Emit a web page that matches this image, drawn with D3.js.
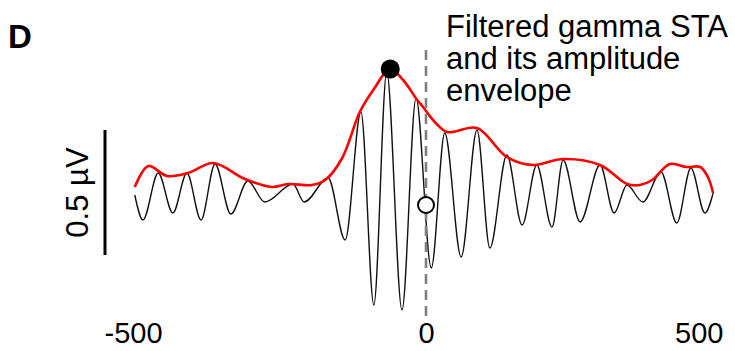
<!DOCTYPE html>
<html>
<head>
<meta charset="utf-8">
<script src="https://cdn.jsdelivr.net/npm/d3@7"></script>
<style>
  body { margin: 0; background: #fff; }
  svg { display: block; font-family: "Liberation Sans", Arial, sans-serif; }
</style>
</head>
<body>
<div id="chart"></div>
<script>
// time (ms) and amplitude (uV)
var staTime = [-497, -483, -457, -432, -408, -384, -360, -333, -304, -275, -227, -208, -167, -138, -111, -89, -67, -41, -17, 9, 32, 60, 87, 109, 138, 164, 189, 215, 234, 263, 297, 321, 343, 370, 401, 428, 452, 476, 490];
var staValue = [0, -0.10, 0.088, -0.072, 0.088, -0.10, 0.124, -0.076, 0.056, -0.028, 0.044, -0.028, 0.068, -0.18, 0.332, -0.44, 0.492, -0.46, 0.388, -0.292, 0.248, -0.248, 0.26, -0.212, 0.16, -0.12, 0.12, -0.128, 0.14, -0.108, 0.12, -0.072, 0.04, -0.028, 0.092, -0.112, 0.108, -0.072, 0.008];

var envTime = [-497, -474, -442, -406, -363, -309, -263, -235, -195, -172, -143, -113, -90, -61, -39, -15, -5, 12, 36, 87, 138, 183, 234, 297, 343, 365, 386, 416, 445, 468, 481, 490];
var envValue = [0.032, 0.116, 0.076, 0.088, 0.128, 0.064, 0.032, 0.044, 0.04, 0.06, 0.148, 0.332, 0.42, 0.504, 0.46, 0.38, 0.352, 0.30, 0.252, 0.268, 0.152, 0.12, 0.144, 0.12, 0.044, 0.04, 0.06, 0.124, 0.112, 0.112, 0.072, 0.008];

var peakPoint = {t: -61, v: 0.504};   // envelope maximum
var zeroPoint = {t: 0, v: -0.04};     // STA at time 0
var xTicks = [-500, 0, 500];
var scaleBar = [-0.24, 0.26];         // 0.5 uV
var scaleLabel = "0.5 \u00b5V";
var panelLabel = "D";
var note = ["Filtered gamma STA", "and its amplitude", "envelope"];

var width = 735, height = 351;

var svg = d3.select("#chart").append("svg")
    .attr("width", width)
    .attr("height", height);

var x = d3.scaleLinear().domain([-500, 500]).range([133, 719]);
var y = d3.scaleLinear().domain([0, 0.5]).range([195, 70]);

var sta = staTime.map(function(t, i) { return {t: t, v: staValue[i]}; });
var env = envTime.map(function(t, i) { return {t: t, v: envValue[i]}; });

// black trace
var staLine = d3.line()
    .x(function(d) { return x(d.t); })
    .y(function(d) { return y(d.v); })
    .curve(d3.curveMonotoneX);

svg.append("path")
    .datum(sta)
    .attr("d", staLine)
    .attr("fill", "none")
    .attr("stroke", "#111")
    .attr("stroke-width", 1.4);

// red envelope
var envLine = d3.line()
    .x(function(d) { return x(d.t); })
    .y(function(d) { return y(d.v); })
    .curve(d3.curveCatmullRom.alpha(0.5));

svg.append("path")
    .datum(env)
    .attr("d", envLine)
    .attr("fill", "none")
    .attr("stroke", "#f00")
    .attr("stroke-width", 2.6);

// dashed line at time zero
svg.append("line")
    .attr("x1", x(0)).attr("x2", x(0))
    .attr("y1", y(0.58)).attr("y2", y(-0.49))
    .attr("stroke", "#808080")
    .attr("stroke-width", 2.6)
    .attr("stroke-dasharray", "10,6");

svg.append("circle")
    .attr("cx", x(peakPoint.t))
    .attr("cy", y(peakPoint.v))
    .attr("r", 9.5)
    .attr("fill", "#000");

svg.append("circle")
    .attr("cx", x(zeroPoint.t))
    .attr("cy", y(zeroPoint.v))
    .attr("r", 8)
    .attr("fill", "#fff")
    .attr("stroke", "#000")
    .attr("stroke-width", 2);

// x labels
var xAxis = svg.append("g")
    .attr("transform", "translate(0,318)")
    .call(d3.axisBottom(x).tickValues(xTicks).tickSize(0).tickPadding(4).tickFormat(function(d) { return String(d); }));
xAxis.select(".domain").remove();
xAxis.selectAll("text")
    .attr("font-size", 29)
    .attr("font-family", "Liberation Sans, Arial, sans-serif")
    .attr("fill", "#000")
    .attr("dx", function(d) { return d === 500 ? 4 : 0; })
    .attr("text-anchor", function(d) { return d === 500 ? "end" : "middle"; });

// scale bar
svg.append("line")
    .attr("x1", 105).attr("x2", 105)
    .attr("y1", y(scaleBar[0])).attr("y2", y(scaleBar[1]))
    .attr("stroke", "#000")
    .attr("stroke-width", 3);

svg.append("text")
    .attr("transform", "translate(88," + y(d3.mean(scaleBar)) + ") rotate(-90)")
    .attr("text-anchor", "middle")
    .attr("font-size", 31)
    .text(scaleLabel);

svg.append("text")
    .attr("x", 8)
    .attr("y", 48)
    .attr("font-size", 33)
    .attr("font-weight", "bold")
    .text(panelLabel);

svg.append("text")
    .attr("x", 446)
    .attr("y", 37)
    .attr("font-size", 31)
    .selectAll("tspan")
    .data(note)
    .enter().append("tspan")
    .attr("x", 446)
    .attr("dy", function(d, i) { return i === 0 ? 0 : 32; })
    .text(function(d) { return d; });
</script>
</body>
</html>
